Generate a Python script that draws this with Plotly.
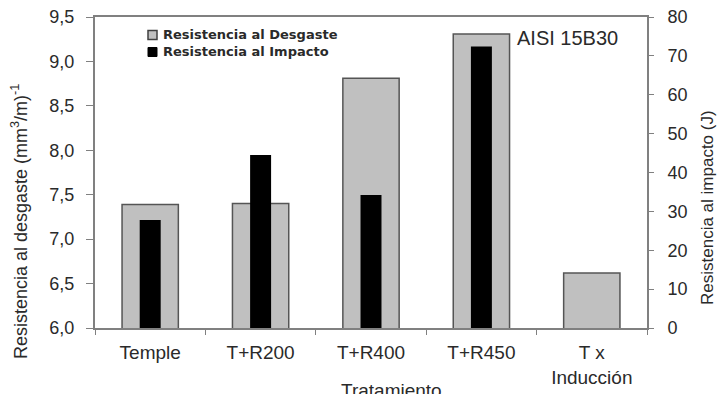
import plotly.graph_objects as go

# Data
tratamientos = ["Temple", "T+R200", "T+R400", "T+R450", "T x<br>Inducción"]
desgaste = [7.39, 7.40, 8.81, 9.31, 6.62]        # (mm3/m)^-1, left axis
impacto = [27.8, 44.5, 34.2, 72.4, None]          # J, right axis

y_ticks = [6.0, 6.5, 7.0, 7.5, 8.0, 8.5, 9.0, 9.5]
y2_ticks = [0, 10, 20, 30, 40, 50, 60, 70, 80]

W, H = 717, 394
ML, MR, MT, MB = 95, 70, 17, 66
PW, PH = W - ML - MR, H - MT - MB

AXIS = "#808080"
TXT = "#2a2a2a"
FONT = "Liberation Sans, Arial, sans-serif"


def px_x(px):
    return (px - ML) / PW


def px_y(py):
    return (H - MB - py) / PH


fig = go.Figure()
fig.add_trace(go.Bar(
    x=tratamientos, y=desgaste, name="Resistencia al Desgaste",
    width=0.51, marker=dict(color="#c0c0c0", line=dict(color="#555555", width=1.5)),
    yaxis="y", showlegend=False,
))
fig.add_trace(go.Bar(
    x=tratamientos, y=impacto, name="Resistencia al Impacto",
    width=0.19, marker=dict(color="#000000", line=dict(color="#000000", width=0)),
    yaxis="y2", showlegend=False,
))

fig.update_layout(
    width=W, height=H,
    margin=dict(l=ML, r=MR, t=MT, b=MB, autoexpand=False),
    paper_bgcolor="white", plot_bgcolor="white",
    barmode="overlay",
    separators=",.",
    font=dict(family=FONT, color=TXT),
    xaxis=dict(
        categoryorder="array", categoryarray=tratamientos,
        range=[-0.5, 4.5], automargin=False,
        showline=True, linecolor=AXIS, linewidth=2, mirror=True,
        ticks="outside", ticklen=5, tickcolor=AXIS, tickwidth=1,
        tickson="boundaries", showgrid=False,
        tickfont=dict(size=19, color=TXT), ticklabelstandoff=6,
    ),
    yaxis=dict(
        range=[6, 9.5], tickvals=y_ticks, tickformat=".1f", automargin=False,
        showline=True, linecolor=AXIS, linewidth=2,
        ticks="outside", ticklen=7, tickcolor=AXIS, tickwidth=1,
        showgrid=False, zeroline=False,
        tickfont=dict(size=18, color=TXT), ticklabelstandoff=8,
    ),
    yaxis2=dict(
        range=[0, 80], tickvals=y2_ticks, overlaying="y", side="right",
        automargin=False,
        showline=True, linecolor=AXIS, linewidth=2,
        ticks="outside", ticklen=5, tickcolor=AXIS, tickwidth=1,
        showgrid=False, zeroline=False,
        tickfont=dict(size=18, color=TXT), ticklabelstandoff=10,
    ),
)

annotations = [
    dict(text="Resistencia al desgaste (mm<sup>3</sup>/m)<sup>-1</sup>",
         x=px_x(19), y=px_y(222), xanchor="center", yanchor="middle",
         textangle=-90, font=dict(size=18, color=TXT)),
    dict(text="Resistencia al impacto (J)",
         x=px_x(707), y=px_y(208), xanchor="center", yanchor="middle",
         textangle=-90, font=dict(size=17, color=TXT)),
    dict(text="Tratamiento", x=px_x(391), y=px_y(378),
         xanchor="center", yanchor="top", font=dict(size=19, color=TXT)),
    dict(text="AISI 15B30", x=px_x(515), y=px_y(38),
         xanchor="left", yanchor="middle", font=dict(size=20, color=TXT)),
    dict(text="Resistencia al Desgaste", x=px_x(161), y=px_y(35),
         xanchor="left", yanchor="middle",
         font=dict(size=13, color=TXT, family="DejaVu Sans", weight="bold")),
    dict(text="Resistencia al Impacto", x=px_x(161), y=px_y(52),
         xanchor="left", yanchor="middle",
         font=dict(size=13, color=TXT, family="DejaVu Sans", weight="bold")),
]
for a in annotations:
    a.update(xref="paper", yref="paper", showarrow=False)
fig.update_layout(annotations=annotations)

# Legend keys
shapes = [
    dict(type="rect", x0=px_x(148), x1=px_x(157), y0=px_y(39.5), y1=px_y(30.5),
         fillcolor="#c0c0c0", line=dict(color="#404040", width=1.5)),
    dict(type="rect", x0=px_x(148), x1=px_x(157), y0=px_y(56.5), y1=px_y(47.5),
         fillcolor="#000000", line=dict(color="#000000", width=1)),
]
for s in shapes:
    s.update(xref="paper", yref="paper")
fig.update_layout(shapes=shapes)

fig.write_html("out.html")
